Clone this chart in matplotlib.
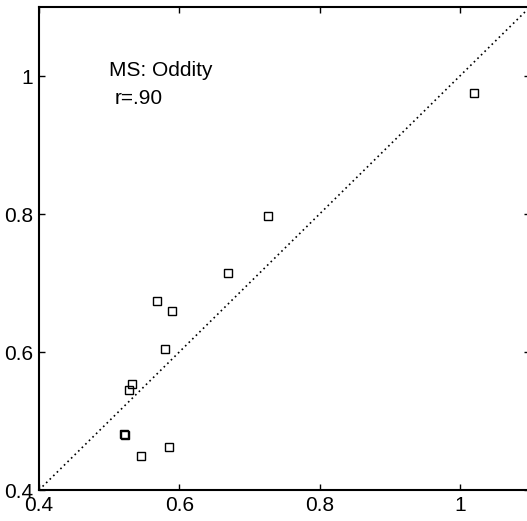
import matplotlib
matplotlib.use("Agg")
import matplotlib.pyplot as plt
import numpy as np

# Data
x_vals = [1.020, 0.727, 0.669, 0.568, 0.590, 0.580, 0.533, 0.529, 0.521, 0.522, 0.586, 0.545]
y_vals = [0.975, 0.797, 0.714, 0.674, 0.659, 0.604, 0.554, 0.545, 0.481, 0.479, 0.463, 0.449]
ticks = [0.4, 0.6, 0.8, 1.0]
tick_labels = ["0.4", "0.6", "0.8", "1"]
line_ends = [0.4, 1.1]
label_title = "MS: Oddity"
label_r = "r=.90"

plt.rcParams['font.family'] = ['Liberation Sans', 'DejaVu Sans']

fig = plt.figure(figsize=(5.27, 5.21), dpi=100)
ax = fig.add_axes([39/527, 31/521, 491/527, 483/521])

ax.plot(line_ends, line_ends, linestyle=(0, (1, 2)), color='black', linewidth=1.2)
ax.plot(x_vals, y_vals, linestyle='none', marker='s', markersize=6,
        markerfacecolor='none', markeredgecolor='black', markeredgewidth=1.0)

ax.set_xlim(0.4, 1.1)
ax.set_ylim(0.4, 1.1)
ax.set_xticks(ticks)
ax.set_xticklabels(tick_labels)
ax.set_yticks(ticks)
ax.set_yticklabels(tick_labels)
ax.tick_params(direction='in', length=4, width=1, labelsize=15, pad=4,
               top=True, right=True, colors='black')
for s in ax.spines.values():
    s.set_linewidth(1.5)

ax.text(0.5, 1.0, label_title, fontsize=15, ha='left', va='baseline')
ax.text(0.508, 0.959, label_r, fontsize=15, ha='left', va='baseline')

fig.savefig("out.png", dpi=100)
